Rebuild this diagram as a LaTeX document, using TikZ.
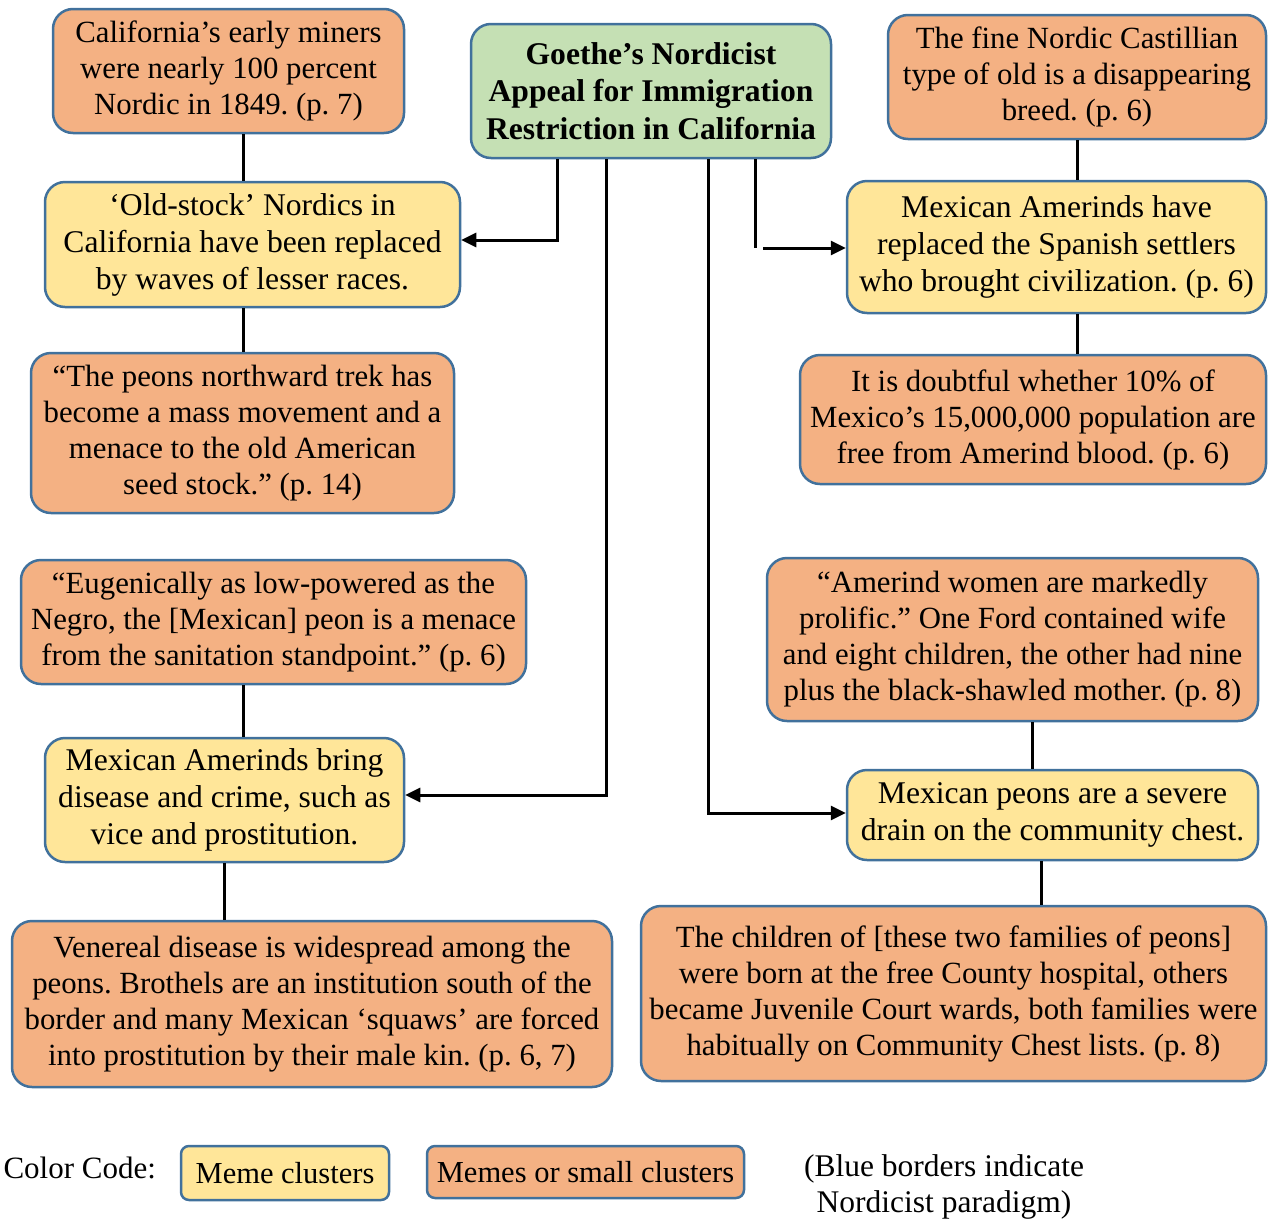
\documentclass[tikz,border=0pt]{standalone}
\usepackage{fontspec}
\setmainfont{Liberation Serif}
\usetikzlibrary{arrows.meta}
\frenchspacing
\definecolor{memeorange}{HTML}{F4B183}
\definecolor{memeyellow}{HTML}{FFE699}
\definecolor{memegreen}{HTML}{C5E0B4}
\definecolor{nordblue}{HTML}{41719C}
\tikzset{
  box/.style={draw=nordblue, line width=2.5pt, rounded corners=20pt, align=center, inner sep=0pt},
  orangebox/.style={box, fill=memeorange, font=\fontsize{30.8}{36}\selectfont},
  yellowbox/.style={box, fill=memeyellow, font=\fontsize{31.6}{37}\selectfont},
  titlebox/.style={box, fill=memegreen, font=\fontsize{31.6}{37.5}\selectfont\bfseries},
  keybox/.style={draw=nordblue, line width=2.5pt, rounded corners=8pt, inner sep=0pt, font=\fontsize{30.5}{34}\selectfont},
  link/.style={line width=3pt},
  arrow/.style={link, -{Triangle[length=15pt,width=14pt]}},
}
\begin{document}
\begin{tikzpicture}[x=1pt,y=-1pt]
\useasboundingbox (0,0) rectangle (1268,1221);

% central claim
\node[titlebox, minimum width=360pt, minimum height=134pt] (g) at (651,91)
  {Goethe’s Nordicist\\Appeal for Immigration\\Restriction in California};

% left column
\node[orangebox, minimum width=351pt, minimum height=124pt] (a) at (228.5,71)
  {California’s early miners\\were nearly 100 percent\\Nordic in 1849. (p. 7)};
\node[yellowbox, minimum width=415pt, minimum height=125pt] (b) at (252.5,244.5)
  {‘Old-stock’ Nordics in\\California have been replaced\\by waves of lesser races.};
\node[orangebox, minimum width=423pt, minimum height=160pt] (c) at (242.5,433)
  {“The peons northward trek has\\become a mass movement and a\\menace to the old American\\seed stock.” (p. 14)};
\node[orangebox, minimum width=505pt, minimum height=124pt] (d) at (273.5,622)
  {“Eugenically as low-powered as the\\Negro, the [Mexican] peon is a menace\\from the sanitation standpoint.” (p. 6)};
\node[yellowbox, minimum width=359pt, minimum height=124pt] (e) at (224.5,800)
  {Mexican Amerinds bring\\disease and crime, such as\\vice and prostitution.};
\node[orangebox, minimum width=600pt, minimum height=166pt] (f) at (312,1004)
  {Venereal disease is widespread among the\\peons. Brothels are an institution south of the\\border and many Mexican ‘squaws’ are forced\\into prostitution by their male kin. (p. 6, 7)};

% right column
\node[orangebox, minimum width=378pt, minimum height=124pt] (h) at (1077,77)
  {The fine Nordic Castillian\\type of old is a disappearing\\breed. (p. 6)};
\node[yellowbox, minimum width=419pt, minimum height=132pt] (i) at (1056.5,247)
  {Mexican Amerinds have\\replaced the Spanish settlers\\who brought civilization. (p. 6)};
\node[orangebox, minimum width=466pt, minimum height=129pt] (j) at (1033,419.5)
  {It is doubtful whether 10\% of\\Mexico’s 15,000,000 population are\\free from Amerind blood. (p. 6)};
\node[orangebox, minimum width=491pt, minimum height=163pt] (k) at (1012.5,639.5)
  {“Amerind women are markedly\\prolific.” One Ford contained wife\\and eight children, the other had nine\\plus the black-shawled mother. (p. 8)};
\node[yellowbox, minimum width=411pt, minimum height=90pt] (l) at (1052.5,815)
  {Mexican peons are a severe\\drain on the community chest.};
\node[orangebox, minimum width=625pt, minimum height=175pt] (m) at (953.5,993.5)
  {The children of [these two families of peons]\\were born at the free County hospital, others\\became Juvenile Court wards, both families were\\habitually on Community Chest lists. (p. 8)};

% columns of the plain links
\coordinate (colA) at (243,0);
\coordinate (colE) at (224,0);
\coordinate (colH) at (1077,0);
\coordinate (colK) at (1032,0);
\coordinate (colL) at (1041,0);

\draw[link] (colA |- a.south) -- (colA |- b.north);
\draw[link] (colA |- b.south) -- (colA |- c.north);
\draw[link] (colA |- d.south) -- (colA |- e.north);
\draw[link] (colE |- e.south) -- (colE |- f.north);
\draw[link] (colH |- h.south) -- (colH |- i.north);
\draw[link] (colH |- i.south) -- (colH |- j.north);
\draw[link] (colK |- k.south) -- (colK |- l.north);
\draw[link] (colL |- l.south) -- (colL |- m.north);

% arrows out of the central claim
\coordinate (outB) at (557,0);
\coordinate (outE) at (606,0);
\coordinate (outL) at (708,0);
\coordinate (outI) at (755,0);
\coordinate (brkI) at (755,248);
\coordinate (restI) at (763,248);
\coordinate (toB) at (0,240);
\coordinate (toE) at (0,795);
\coordinate (toL) at (0,813);
\draw[arrow] (outB |- g.south) |- (toB -| b.east);
\draw[arrow] (outE |- g.south) |- (toE -| e.east);
\draw[arrow] (outL |- g.south) |- (toL -| l.west);
\draw[link] (outI |- g.south) -- (brkI);
\draw[arrow] (restI) -- (restI -| i.west);

% colour key
\node[anchor=west, font=\fontsize{31}{34}\selectfont] (key) at (0,1168) {Color Code:};
\node[keybox, fill=memeyellow, minimum width=208pt, minimum height=54pt] (ky) at (285,1173) {Meme clusters};
\node[keybox, fill=memeorange, minimum width=317pt, minimum height=52pt] (ko) at (585.5,1172) {Memes or small clusters};
\node[align=center, font=\fontsize{31.5}{36}\selectfont] (note) at (944,1187)
  {(Blue borders indicate\\Nordicist paradigm)};
\end{tikzpicture}
\end{document}
